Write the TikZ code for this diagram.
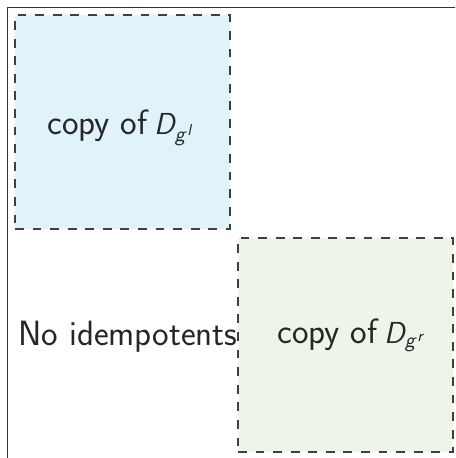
\documentclass[tikz,border=0pt]{standalone}
\usetikzlibrary{shapes,calc}
\definecolor{copyblue}{RGB}{224,242,250}
\definecolor{copygreen}{RGB}{236,245,232}
\DeclareMathAlphabet{\mathsfit}{OT1}{cmss}{m}{sl}
\newcommand{\Dg}[1]{\hspace{-0.12em}{\fontsize{18.5}{22}\selectfont$\mathsfit{D}_{\mathsfit{g}^{\mathsfit{#1}}}$}}

\begin{document}
\begin{tikzpicture}[font=\sffamily\fontsize{20}{24}\selectfont,
  copybox/.style={draw=black!75,dash pattern=on 5pt off 5pt,line width=0.6pt,
    minimum width=4.3cm,minimum height=4.28cm,inner sep=0pt},
  label/.style={anchor=base west,inner sep=0pt,text=black!85}]
\useasboundingbox (0,0) rectangle (9.1,-9.16);
\clip (0,0) rectangle (9.1,-9.16);
\draw[black!80,line width=1pt] (0.15,-0.15) rectangle (9.6,-9.6);

\node[copybox,fill=copyblue] (Bl) at (2.45,-2.44) {};
\node[copybox,fill=copygreen] (Br) at (6.91,-6.90) {};

\node[label] (Tl) at (0.94,-2.70) {copy of \Dg{l}};
\node[label] (Tr) at (5.54,-6.86) {copy of \Dg{r}};
\node[label] (N0) at (0.36,-6.90) {No idempotents};
\end{tikzpicture}
\end{document}
